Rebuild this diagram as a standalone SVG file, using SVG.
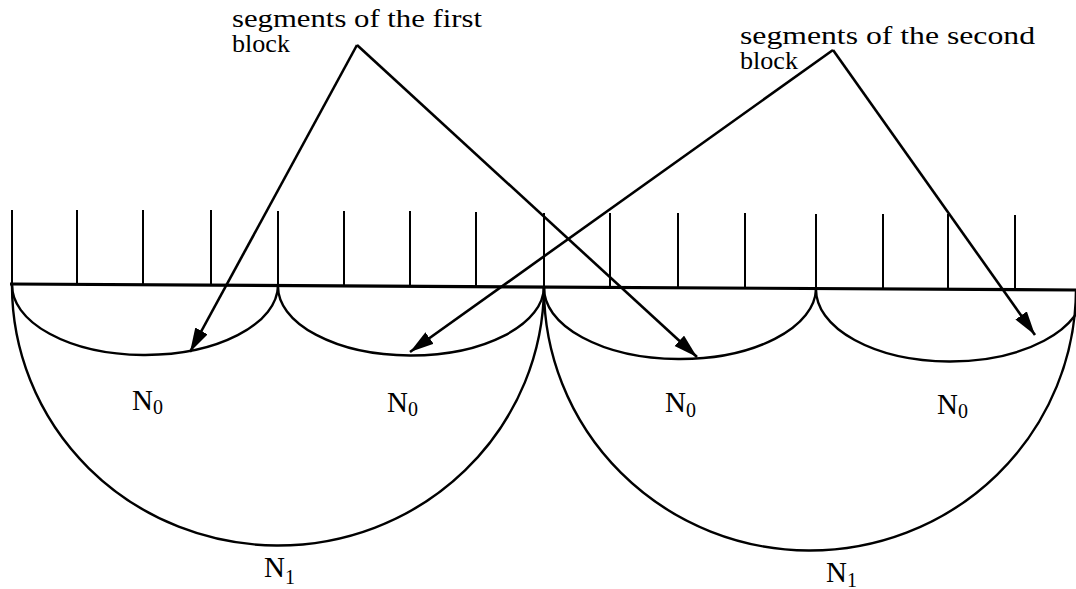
<svg xmlns="http://www.w3.org/2000/svg" width="1076" height="589" viewBox="0 0 1076 589">
<style>
.t{font-family:"Liberation Serif","Times New Roman",serif;fill:#000}
.lbl{font-size:25px}
.n{font-size:29px}
.sub{font-size:20px}
.tick{stroke:#000;stroke-width:2;fill:none}
.base{stroke:#000;stroke-width:3.2;fill:none}
.arc{stroke:#000;stroke-width:2.4;fill:none}
.arr{stroke:#000;stroke-width:2.6;fill:none;marker-end:url(#ah)}
</style>
<defs>
<marker id="ah" markerUnits="userSpaceOnUse" markerWidth="26" markerHeight="16" refX="24" refY="7" orient="auto">
<path d="M0,0 L24,7 L0,14 Z" fill="#000"/>
</marker>
</defs>
<rect width="1076" height="589" fill="#fff"/>
<g id="ruler">
<path class="tick" d="M12,210V284 M77,210V284 M143,210V285 M211,210V285 M278,211V286 M344,211V286 M410,211V286 M476,212V287 M544,213V287 M610,213V287 M678,213V288 M745,213V288 M816,214V289 M883,214V289 M948,214V289 M1015,215V290"/>
<path class="base" d="M10,284 L1076,290"/>
</g>
<g id="arcs-level0">
<path class="arc" d="M12,284 A133,70 0 0 0 278,286"/>
<path class="arc" d="M278,286 A133,69 0 0 0 544,287"/>
<path class="arc" d="M544,287 A136,71 0 0 0 816,289"/>
<path class="arc" d="M816,289 A134,72 0 0 0 1084,290"/>
</g>
<g id="arcs-level1">
<path class="arc" d="M12,284 A266,260 0 0 0 544,287"/>
<path class="arc" d="M544,287 A266,262 0 0 0 1076,290"/>
</g>
<g id="labels-N">
<text class="t n" x="132" y="410">N<tspan class="sub" dy="4">0</tspan></text>
<text class="t n" x="387" y="412">N<tspan class="sub" dy="4">0</tspan></text>
<text class="t n" x="665" y="412">N<tspan class="sub" dy="5">0</tspan></text>
<text class="t n" x="937" y="414">N<tspan class="sub" dy="4">0</tspan></text>
<text class="t n" x="264" y="577">N<tspan class="sub" dy="7">1</tspan></text>
<text class="t n" x="826" y="582">N<tspan class="sub" dy="5">1</tspan></text>
</g>
<g id="label-first">
<text class="t lbl" x="232" y="27" textLength="250" lengthAdjust="spacingAndGlyphs">segments of the first</text>
<text class="t lbl" x="232" y="52" textLength="58" lengthAdjust="spacingAndGlyphs">block</text>
</g>
<g id="label-second">
<text class="t lbl" x="740" y="44" textLength="295" lengthAdjust="spacingAndGlyphs">segments of the second</text>
<text class="t lbl" x="740" y="69" textLength="58" lengthAdjust="spacingAndGlyphs">block</text>
</g>
<g id="connectors">
<path class="arr" d="M357,45 L190,352"/>
<path class="arr" d="M357,45 L697,357"/>
<path class="arr" d="M833,50 L410,352"/>
<path class="arr" d="M833,50 L1035,335"/>
</g>
</svg>
